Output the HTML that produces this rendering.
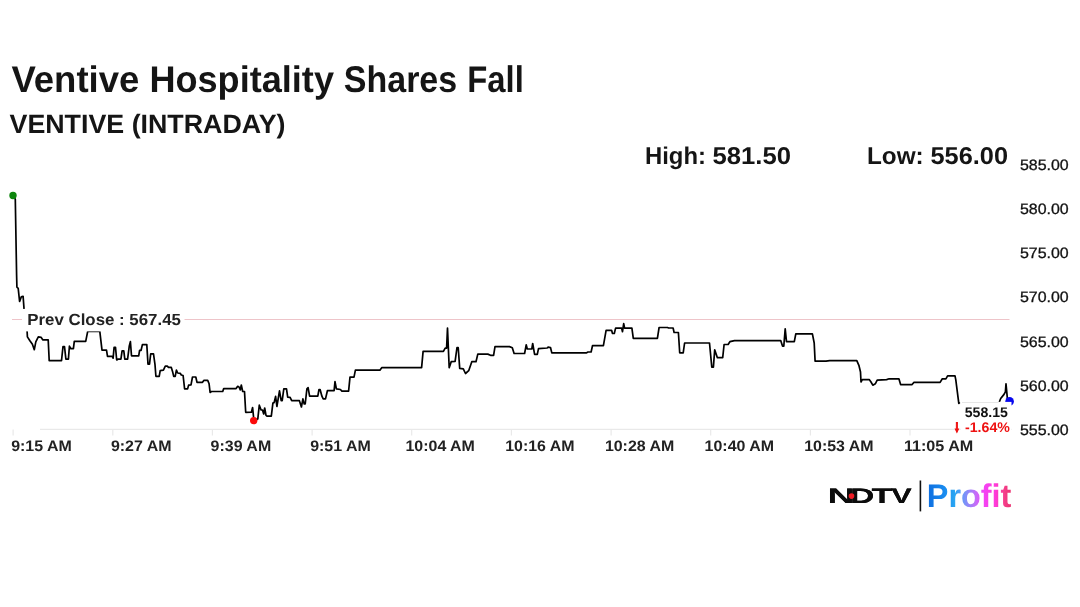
<!DOCTYPE html>
<html lang="en"><head><meta charset="utf-8"><title>Ventive Hospitality Shares Fall</title>
<style>html,body{margin:0;padding:0;background:#fff;}body{width:1080px;height:607px;overflow:hidden;}svg{display:block;will-change:transform;}text{font-family:"Liberation Sans", Arial, Helvetica, sans-serif;text-rendering:geometricPrecision;}</style>
</head><body>
<svg width="1080" height="607" viewBox="0 0 1080 607">
<defs><linearGradient id="pg" gradientUnits="userSpaceOnUse" x1="928" y1="0" x2="1012" y2="0"><stop offset="0" stop-color="#0f6fe0"/><stop offset="0.2" stop-color="#1a8cf0"/><stop offset="0.32" stop-color="#2aa6f2"/><stop offset="0.44" stop-color="#7a92f8"/><stop offset="0.56" stop-color="#c070f8"/><stop offset="0.66" stop-color="#f244f6"/><stop offset="0.8" stop-color="#ff3adc"/><stop offset="0.9" stop-color="#f6408e"/><stop offset="1" stop-color="#e8306c"/></linearGradient></defs>
<rect width="1080" height="607" fill="#ffffff"/>
<g font-weight="700" fill="#151515" font-size="37.1">
<text x="11.4" y="92" textLength="128" lengthAdjust="spacingAndGlyphs">Ventive</text>
<text x="149.4" y="92" textLength="184.6" lengthAdjust="spacingAndGlyphs">Hospitality</text>
<text x="343.8" y="92" textLength="113.4" lengthAdjust="spacingAndGlyphs">Shares</text>
<text x="467.3" y="92" textLength="56.5" lengthAdjust="spacingAndGlyphs">Fall</text>
</g>
<text x="9.5" y="133" font-weight="700" fill="#151515" font-size="26.5" textLength="276" lengthAdjust="spacingAndGlyphs">VENTIVE (INTRADAY)</text>
<g font-weight="700" fill="#151515" font-size="24.3">
<text x="645" y="164" textLength="61" lengthAdjust="spacingAndGlyphs">High:</text>
<text x="712.5" y="164" textLength="78.5" lengthAdjust="spacingAndGlyphs">581.50</text>
<text x="867" y="164" textLength="56.7" lengthAdjust="spacingAndGlyphs">Low:</text>
<text x="930.5" y="164" textLength="77.5" lengthAdjust="spacingAndGlyphs">556.00</text>
</g>
<line x1="40" y1="429.4" x2="1012" y2="429.4" stroke="#e9e9e9" stroke-width="1.2"/>
<line x1="13.1" y1="429.4" x2="13.1" y2="435.6" stroke="#e9e9e9" stroke-width="1.2"/>
<line x1="112.8" y1="429.4" x2="112.8" y2="435.6" stroke="#e9e9e9" stroke-width="1.2"/>
<line x1="212.4" y1="429.4" x2="212.4" y2="435.6" stroke="#e9e9e9" stroke-width="1.2"/>
<line x1="312.1" y1="429.4" x2="312.1" y2="435.6" stroke="#e9e9e9" stroke-width="1.2"/>
<line x1="411.7" y1="429.4" x2="411.7" y2="435.6" stroke="#e9e9e9" stroke-width="1.2"/>
<line x1="511.4" y1="429.4" x2="511.4" y2="435.6" stroke="#e9e9e9" stroke-width="1.2"/>
<line x1="611.1" y1="429.4" x2="611.1" y2="435.6" stroke="#e9e9e9" stroke-width="1.2"/>
<line x1="710.7" y1="429.4" x2="710.7" y2="435.6" stroke="#e9e9e9" stroke-width="1.2"/>
<line x1="810.4" y1="429.4" x2="810.4" y2="435.6" stroke="#e9e9e9" stroke-width="1.2"/>
<line x1="910.0" y1="429.4" x2="910.0" y2="435.6" stroke="#e9e9e9" stroke-width="1.2"/>
<g font-weight="700" fill="#222222" font-size="15.2">
<text x="11.2" y="451" textLength="60.6" lengthAdjust="spacingAndGlyphs">9:15 AM</text>
<text x="110.9" y="451" textLength="60.6" lengthAdjust="spacingAndGlyphs">9:27 AM</text>
<text x="210.6" y="451" textLength="60.6" lengthAdjust="spacingAndGlyphs">9:39 AM</text>
<text x="310.2" y="451" textLength="60.6" lengthAdjust="spacingAndGlyphs">9:51 AM</text>
<text x="405.5" y="451" textLength="69.4" lengthAdjust="spacingAndGlyphs">10:04 AM</text>
<text x="505.2" y="451" textLength="69.4" lengthAdjust="spacingAndGlyphs">10:16 AM</text>
<text x="604.9" y="451" textLength="69.4" lengthAdjust="spacingAndGlyphs">10:28 AM</text>
<text x="704.6" y="451" textLength="69.4" lengthAdjust="spacingAndGlyphs">10:40 AM</text>
<text x="804.2" y="451" textLength="69.4" lengthAdjust="spacingAndGlyphs">10:53 AM</text>
<text x="903.9" y="451" textLength="69.4" lengthAdjust="spacingAndGlyphs">11:05 AM</text>
</g>
<g fill="#111111" stroke="#111111" stroke-width="0.3" font-size="15">
<text x="1019.9" y="169.6" textLength="48.8" lengthAdjust="spacingAndGlyphs">585.00</text>
<text x="1019.9" y="213.8" textLength="48.8" lengthAdjust="spacingAndGlyphs">580.00</text>
<text x="1019.9" y="258.0" textLength="48.8" lengthAdjust="spacingAndGlyphs">575.00</text>
<text x="1019.9" y="302.3" textLength="48.8" lengthAdjust="spacingAndGlyphs">570.00</text>
<text x="1019.9" y="346.5" textLength="48.8" lengthAdjust="spacingAndGlyphs">565.00</text>
<text x="1019.9" y="390.7" textLength="48.8" lengthAdjust="spacingAndGlyphs">560.00</text>
<text x="1019.9" y="434.9" textLength="48.8" lengthAdjust="spacingAndGlyphs">555.00</text>
</g>
<line x1="12" y1="319.5" x2="1009.5" y2="319.5" stroke="#eec4c9" stroke-width="1"/>
<polyline fill="none" stroke="#000000" stroke-width="1.7" stroke-linejoin="round" stroke-linecap="butt" points="13.2,195.6 15.3,199.2 16.6,275 16.9,287.1 18.2,288.3 19.6,301.5 21.3,296.9 23.1,296.3 24,308.4 25.5,320 27.1,331.4 27.4,336.9 29.9,340.8 32.4,344.3 34.3,349.7 35.8,341.8 38.3,336.9 41.2,337.4 42.7,339.8 48.2,339.8 49.2,360.6 61.5,360.6 63,346.7 64.5,346.7 65.9,359.1 68.4,359.1 69.4,346.2 70.9,348.7 73.4,348.7 74.3,341.3 85.7,341.3 87.7,331.4 99.8,331.4 102,350.2 106.5,350.2 107.5,356.4 112.2,356.4 113.1,358.2 114.1,347.4 115.5,347.4 116.7,360 117.9,359.2 120.9,359.2 122.1,350.8 123.8,350.8 124.8,359.2 127.6,359.2 129.3,345.9 130.4,341.6 131.5,355.8 138.7,355.8 139.6,350.3 141.1,350.3 142.4,344.6 146.8,344.6 148,364.2 149.5,364.2 150.7,353.8 153.5,353.8 155,364.6 155.9,376.3 159.2,376.3 160.2,370.6 163.4,370.1 165.3,366.1 167.3,366.1 168.5,367.4 171.3,367.4 172.7,372.1 173.7,376.3 175.2,376.3 176.4,370.1 177.7,373 180.2,373.3 181.3,375 183.1,375.5 184.6,388.9 187.6,388.9 188.6,385.2 191,384.9 192.5,377 195.8,377 197,382.3 202.5,382.3 203.8,380.4 207.7,380.4 209.1,383.8 210.1,392.5 211.4,391.5 222.7,391.5 223.7,388.6 236.1,388.6 237.7,386.3 239,387 240.3,389.9 241.3,385 242.7,391.5 244.5,391.5 245.7,412.3 251.4,412.2 252.6,407.5 253.9,420.6 257.8,418.9 259.3,405.2 261.1,410 262.5,410 263.7,414 264.7,408 266,415.4 267.2,416.2 271.3,416.2 272.9,403.1 274.1,402.6 275.6,396.4 276.9,406.5 279.5,390.9 281.2,400.6 282.2,400.6 283.8,388.9 286.5,388.9 287.7,397.2 290.1,397.4 291.7,400.7 299.4,400.7 301.4,407 302.9,398.9 304.2,404 305.2,404 306.9,388.9 308.1,387.7 309.6,396.2 317.8,396.2 319,389.5 320.1,389.5 321.9,396.2 323.2,398.9 325.5,398.9 327.4,390.7 334.1,390.7 335,381.7 336.4,388.9 340.4,389.5 341.9,391.1 348.6,391.1 350,377.1 354,377.1 355.4,370.2 379.9,370.2 381.7,367.7 421.6,367.7 423.1,351.3 443.4,351.3 445.2,348.1 446.6,348.1 447.5,328.1 449.2,367.7 451.2,361.7 455.1,361.3 457,347.5 458.2,347.5 459.7,368.4 463.3,368.9 465.5,373.5 468.7,370.7 471.8,361.7 476,361.7 477.8,354.1 487.8,354.1 490.5,355.3 493.6,355.3 495,346.6 509.5,346.6 512.3,347.7 514.1,353.5 524.6,353.5 526.2,344.8 527.3,349 531.8,349 532.7,343.5 534.6,354.4 537.3,354.4 538.5,348.6 547.2,348 548.1,347.1 550.5,347.5 551.8,352.9 586.2,352.9 588,352 591.1,352 592.5,345.7 603.4,345.7 606.1,330.3 611.6,330.3 612.5,333.5 614.3,333.5 615.6,328.1 621.6,328.1 622.5,331.7 623.7,323.6 624.6,328.1 631.9,328.1 633.3,338.4 657.4,338.4 659.1,327.5 667.5,327.5 668.6,328 673.1,328 674.1,332.5 678.4,332.5 679.7,352.8 683.2,352.9 684.6,343 709.5,343 711.8,367.1 713.4,367.1 714.7,349.9 717.4,357.7 722.7,357.7 724.1,344.5 728.1,344.5 729.9,341.7 734.5,340.6 780.7,340.6 782.5,346.1 783.8,346.1 785.2,328.9 786.5,341.7 794.3,341.7 795.8,333.9 812.4,333.9 814.2,343 815.1,361.1 826,361.1 829.7,360.6 856.8,360.6 859,365.7 860.5,372 861,382 862.3,379.6 869.2,379.6 871,382 872.8,385.2 875.3,383.8 877.2,380.2 882.2,379.8 886.6,379.6 889.1,378.8 898.9,378.8 900.6,384.6 912.1,384.6 913.8,382.4 940.1,382.4 942.3,378.8 945.9,378.8 947.6,375.8 955,375.8 955.8,379.9 958.8,403.4 959.9,402.4"/>
<polyline fill="none" stroke="#000000" stroke-width="1.7" stroke-linejoin="round" stroke-linecap="butt" points="999.3,402 1000.7,398.5 1004,394.4 1005.4,391.9 1006,383.9 1007.4,398.7 1009.6,401.4"/>
<rect x="22" y="309" width="162.5" height="22.4" fill="#ffffff"/>
<text x="27.3" y="325.4" font-weight="700" fill="#222222" font-size="16.1" textLength="153.6" lengthAdjust="spacingAndGlyphs">Prev Close : 567.45</text>
<circle cx="13" cy="195.5" r="3.7" fill="#0e860e"/>
<circle cx="253.7" cy="420.6" r="3.7" fill="#fb0a0a"/>
<circle cx="1009.6" cy="401.4" r="4.3" fill="#0808ee"/>
<rect x="960.6" y="401.9" width="50.9" height="33" fill="#ffffff"/>
<line x1="962" y1="402.5" x2="998.5" y2="402.5" stroke="#e6e6e6" stroke-width="1"/>
<text x="964.7" y="417.2" font-weight="700" fill="#111111" font-size="14" textLength="43.2" lengthAdjust="spacingAndGlyphs">558.15</text>
<text x="965" y="432.4" font-weight="700" fill="#ee1212" font-size="14" textLength="44.9" lengthAdjust="spacingAndGlyphs">-1.64%</text>
<text transform="translate(954.55 432.2) scale(0.5 1.08)" font-family="DejaVu Sans, sans-serif" font-weight="700" fill="#ee1212" stroke="#ee1212" stroke-width="1.1" font-size="11.5">⬇</text>
<g font-weight="700" fill="#0c0c0c" font-size="21">
<text transform="translate(827.41 502.6) scale(1.774 1)">N</text>
<text transform="translate(827.41 503.4) scale(1.774 1)">N</text>
<text transform="translate(849.94 502.6) scale(1.607 1)">D</text>
<text transform="translate(849.94 503.4) scale(1.607 1)">D</text>
<text transform="translate(871.61 502.6) scale(1.641 1)">T</text>
<text transform="translate(871.61 503.4) scale(1.641 1)">T</text>
<text transform="translate(891.29 502.6) scale(1.465 1)">V</text>
<text transform="translate(891.29 503.4) scale(1.465 1)">V</text>
</g>
<circle cx="851.5" cy="496.1" r="2.8" fill="#ee1c25"/>
<line x1="920.4" y1="480.5" x2="920.4" y2="511.4" stroke="#111" stroke-width="1.6"/>
<text x="926.8" y="507.3" font-weight="700" fill="url(#pg)" font-size="32.7" textLength="84.6" lengthAdjust="spacingAndGlyphs">Profit</text>
</svg>
</body></html>
